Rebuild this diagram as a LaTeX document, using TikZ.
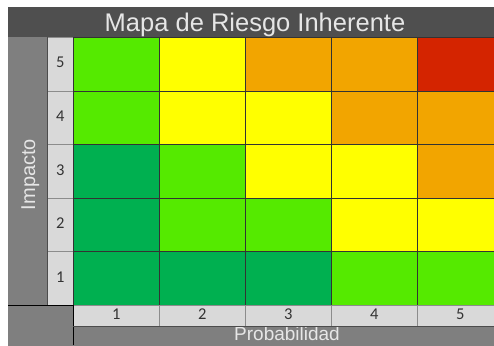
\documentclass[tikz,border=0pt]{standalone}
\usepackage{fontspec}
\setmainfont{Liberation Sans}
\newfontfamily\numfont{Carlito}
\definecolor{vC}{HTML}{55EA00}
\definecolor{vO}{HTML}{00B050}
\definecolor{am}{HTML}{FFFF00}
\definecolor{na}{HTML}{F2A500}
\definecolor{ro}{HTML}{D42400}
\definecolor{grisT}{HTML}{4F4F4F}
\definecolor{grisM}{HTML}{7F7F7F}
\definecolor{grisC}{HTML}{D9D9D9}
\definecolor{letra}{HTML}{E6E6E6}
\tikzset{
  celda/.style={draw=black!80, line width=0.6pt, minimum width=86pt, minimum height=53.6pt, inner sep=0pt, anchor=north west},
  numcelda/.style={fill=grisC, draw=black!45, line width=0.6pt, inner sep=0pt, anchor=north west, font=\numfont\fontsize{16.5}{16.5}\selectfont, text=black!80, text height=7.5pt, text depth=0pt},
  rotulo/.style={text=letra, inner sep=0pt}
}
\begin{document}
\begin{tikzpicture}[x=1pt,y=-1pt]
\useasboundingbox (0,0) rectangle (494,345);
\clip (0,0) rectangle (494,345);
% bandas grises
\fill[grisT] (8,7.5) rectangle (502,37);
\fill[grisM] (8,37) rectangle (47,305);
\fill[grisM] (8,305) rectangle (73,350);
\fill[grisM] (73,326) rectangle (502,350);
\node[rotulo, anchor=base, font=\fontsize{25.5}{25.5}\selectfont] (titulo) at (255,31) {Mapa de Riesgo Inherente};
\node[rotulo, anchor=base, rotate=90, font=\fontsize{20}{20}\selectfont] (impacto) at (35,174.5) {Impacto};
\node[rotulo, anchor=south, text depth=0pt, font=\fontsize{19}{19}\selectfont] (prob) at (287,341) {Probabilidad};
% matriz de colores
\foreach \r/\a/\b/\c/\d/\e in {
            5/vC/am/na/na/ro,
            4/vC/am/am/na/na,
            3/vO/vC/am/am/na,
            2/vO/vC/vC/am/am,
            1/vO/vO/vO/vC/vC} {
  \node[numcelda, minimum width=26pt, minimum height=53.6pt] (imp-\r) at (47,{37+(5-\r)*53.6}) {\r};
  \foreach \k/\col in {1/\a, 2/\b, 3/\c, 4/\d, 5/\e}
    \node[celda, fill=\col] (celda-\r-\k) at ({73+(\k-1)*86},{37+(5-\r)*53.6}) {};
}
\foreach \k in {1,...,5}
  \node[numcelda, minimum width=86pt, minimum height=21pt] (prob-\k) at ({73+(\k-1)*86},305) {\k};
% lineas oscuras
\draw[black, line width=0.7pt] (8,305) -- (73,305) -- (73,345);
\draw[black!70, line width=0.6pt] (47,37) -- (47,305);
\draw[black!70, line width=0.6pt] (73,326) -- (494,326);
\end{tikzpicture}
\end{document}
